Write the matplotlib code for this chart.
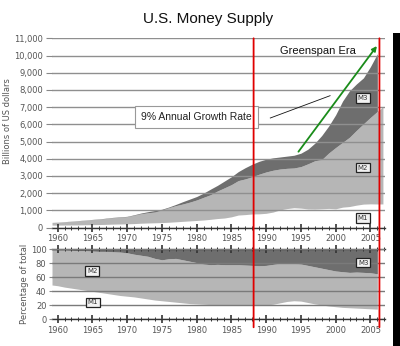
import numpy as np
import matplotlib
matplotlib.use("Agg")
import matplotlib.pyplot as plt
from matplotlib.patches import ConnectionPatch, Rectangle
from matplotlib.ticker import FuncFormatter, MultipleLocator

# ---------------- data ----------------
years = [1959.2] + list(range(1960, 2007)) + [2006.8]

m1 = [140, 140, 145, 148, 153, 160, 167, 172, 183, 197, 204,
      214, 228, 249, 263, 274, 287, 306, 331, 358, 383,
      409, 436, 475, 521, 552, 620, 725, 750, 787, 794,
      825, 897, 1025, 1100, 1150, 1127, 1081, 1073, 1090, 1110,
      1088, 1183, 1220, 1300, 1360, 1375, 1367, 1370]

m2 = [300, 312, 335, 362, 393, 424, 459, 480, 525, 567, 588,
      627, 710, 802, 856, 902, 1016, 1152, 1270, 1366, 1474,
      1600, 1755, 1906, 2124, 2306, 2492, 2728, 2826, 2950, 3100,
      3230, 3330, 3400, 3440, 3460, 3540, 3700, 3880, 3950, 4330,
      4650, 4950, 5250, 5650, 6030, 6400, 6750, 7020]

# M3 reporting ends in 2006
m3 = [300, 315, 340, 370, 402, 435, 470, 500, 545, 590, 615,
      650, 740, 840, 920, 990, 1060, 1190, 1340, 1500, 1650,
      1800, 2000, 2230, 2450, 2700, 2950, 3250, 3480, 3680, 3850,
      3970, 4050, 4100, 4150, 4200, 4320, 4550, 4900, 5350, 5900,
      6550, 7350, 7950, 8350, 8700, 9350, 10100]

pct_m1 = [49, 48, 46, 44.5, 43, 41.5, 40, 38.5, 37, 35.5, 34,
          33, 32, 30.5, 29, 27.5, 26.5, 25.5, 24.5, 23.5, 22.5,
          22, 21.5, 21, 21, 20.5, 20.5, 21, 21, 20.5, 20.5,
          20.5, 21.5, 23.5, 25.5, 26.5, 26, 24, 22, 20.5, 19,
          18, 17, 16.5, 16, 15.5, 15, 14.5]

pct_m2 = [99, 99, 99, 98.5, 98, 98, 97.5, 97, 97, 96.5, 96,
          95, 93, 91.5, 90, 87, 85, 86.5, 87, 85, 83,
          81, 79, 78, 78.5, 78, 78, 78, 77.5, 77, 76.5,
          77, 78.5, 80, 80.5, 80, 79, 77, 75, 73, 71,
          69, 68, 67, 67.5, 67, 66.5, 65]

year_ticks = list(range(1960, 2006, 5))
usd_ticks = list(range(0, 11001, 1000))
pct_ticks = [0, 20, 40, 60, 80, 100]
greenspan_era = [1988.2, 2006.3]
growth_arrow = [(1994.65, 4407), (2005.93, 10552)]
pointer_line = [(1990.6, 6366), (1999.2, 7663)]

# ---------------- style ----------------
C_M3 = "#6e6e6e"
C_M2 = "#b6b6b6"
C_M1 = "#ffffff"
C_GRID = "#8f8f8f"
C_TXT = "#555555"
ARIAL = ["Liberation Sans", "DejaVu Sans"]

fig = plt.figure(figsize=(4.0, 3.46), dpi=100)
W, H = 400.0, 346.0

ax1 = fig.add_axes([52 / W, 1 - 227.5 / H, 333 / W, (227.5 - 38.3) / H])
ax2 = fig.add_axes([52 / W, 1 - 319.3 / H, 333 / W, 70 / H])

n3 = len(m3)
# top chart: stacked areas
ax1.fill_between(years, 0, m1, color=C_M1, lw=0)
ax1.fill_between(years, m1, m2, color=C_M2, lw=0)
ax1.fill_between(years[:n3], m2[:n3], m3, color=C_M3, lw=0)

# bottom chart: shares
ax2.fill_between(years[:n3], 0, pct_m1, color=C_M1, lw=0)
ax2.fill_between(years[:n3], pct_m1, pct_m2, color=C_M2, lw=0)
ax2.fill_between(years[:n3], pct_m2, 100, color=C_M3, lw=0)

for ax in (ax1, ax2):
    ax.set_xlim(1959.2, 2007.1)
    ax.set_facecolor("white")
    ax.set_axisbelow(False)
    ax.xaxis.set_major_locator(plt.FixedLocator(year_ticks))
    ax.xaxis.set_minor_locator(MultipleLocator(1))
    ax.tick_params(axis="x", which="major", direction="inout", length=6,
                   width=1.2, color="#333333", labelsize=6, labelcolor=C_TXT, pad=2)
    ax.tick_params(axis="x", which="minor", direction="inout", length=3,
                   width=0.7, color="#333333")
    ax.spines["left"].set_visible(False)
    ax.spines["right"].set_visible(False)
    ax.spines["bottom"].set_color("#333333")
    ax.spines["bottom"].set_linewidth(1.0)

ax1.grid(axis="y", color=C_GRID, lw=1.0)
ax2.grid(axis="y", color="#7a7a7a", lw=1.0)

ax1.set_ylim(0, 11000)
ax1.set_yticks(usd_ticks)
ax1.yaxis.set_major_formatter(FuncFormatter(lambda v, p: f"{int(v):,}"))
ax1.tick_params(axis="y", direction="out", length=4.5, width=0.8, color="#888888",
                labelsize=6, labelcolor=C_TXT, pad=2)
ax1.spines["top"].set_visible(False)

ax2.set_ylim(0, 100)
ax2.set_yticks(pct_ticks)
ax2.tick_params(axis="y", direction="out", length=2.5, width=0.8, color="#888888",
                labelsize=6, labelcolor=C_TXT, pad=1.5)
ax2.tick_params(axis="x", which="both", top=True)
ax2.spines["top"].set_color("#333333")
ax2.spines["top"].set_linewidth(1.0)

# axis titles
fig.text(8 / W, 1 - 121 / H, "Billions of US dollars", rotation=90,
         ha="center", va="center", fontsize=6, color=C_TXT)
fig.text(25 / W, 1 - 284 / H, "Percentage of total", rotation=90,
         ha="center", va="center", fontsize=6, color=C_TXT)
fig.text(208 / W, 1 - 19.5 / H, "U.S. Money Supply", ha="center", va="center",
         fontsize=11, family=ARIAL, color="#111111")

# series labels
box = dict(boxstyle="square,pad=0.25", fc="#f2f2f2", ec="#222222", lw=0.9)
for ax, x, y, s in [(ax1, 2003.9, 7529, "M3"), (ax1, 2003.9, 3488, "M2"),
                    (ax1, 2003.9, 552, "M1"), (ax2, 1965.0, 69, "M2"),
                    (ax2, 1965.1, 24, "M1"), (ax2, 2004.0, 81, "M3")]:
    ax.text(x, y, s, ha="center", va="center", fontsize=5, color="#333333",
            bbox=box, zorder=6)

# annotations
ax1.text(1997.5, 10262, "Greenspan Era", ha="center", va="center",
         fontsize=8, family=ARIAL, color="#111111", zorder=6)
ax1.text(1980.0, 6424, "9% Annual Growth Rate", ha="center", va="center",
         fontsize=7.5, family=ARIAL, color="#222222", zorder=6,
         bbox=dict(boxstyle="square,pad=0.6", fc="white", ec="#999999", lw=0.8))
ax1.plot([pointer_line[0][0], pointer_line[1][0]],
         [pointer_line[0][1], pointer_line[1][1]], color="#111111", lw=0.6, zorder=6)
ax1.annotate("", xy=growth_arrow[1], xytext=growth_arrow[0],
             arrowprops=dict(arrowstyle="-|>", color="#1a8c1a", lw=1.3,
                             mutation_scale=7, shrinkA=0, shrinkB=0), zorder=7)

# Greenspan era red lines spanning both panels
for x in greenspan_era:
    cp = ConnectionPatch(xyA=(x, 11000), coordsA="data", axesA=ax1,
                         xyB=(x, -11.4), coordsB="data", axesB=ax2,
                         color="#e00000", lw=1.3, zorder=10,
                         shrinkA=0, shrinkB=0)
    cp.set_annotation_clip(False)
    cp.set_clip_on(False)
    fig.add_artist(cp)

# black bar at right edge
fig.add_artist(Rectangle((393 / W, 0), 7 / W, 1 - 33 / H, transform=fig.transFigure,
                         color="black", lw=0))

fig.savefig("out.png", dpi=100)
